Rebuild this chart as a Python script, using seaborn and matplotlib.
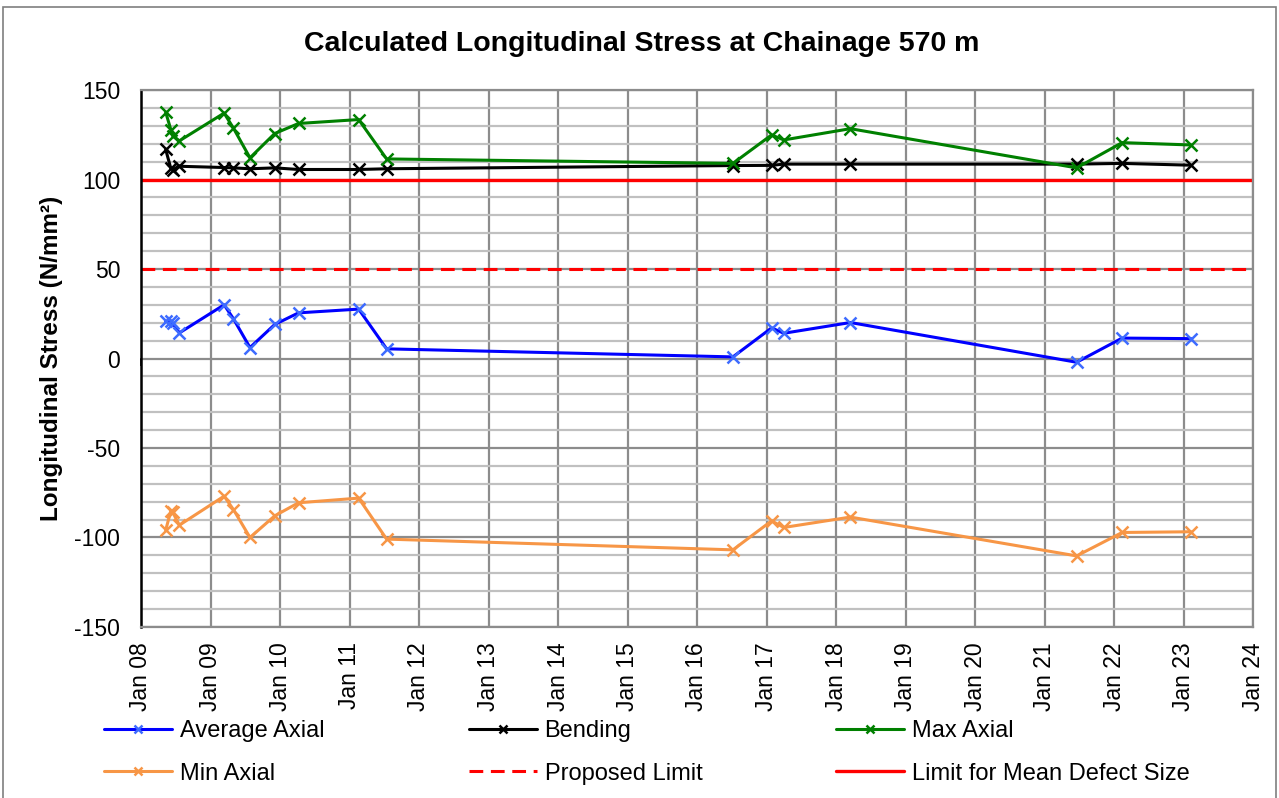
import pandas as pd
import matplotlib
matplotlib.use("Agg")
import matplotlib.pyplot as plt
import matplotlib.dates as mdates
import matplotlib.patches as patches
from matplotlib.ticker import MultipleLocator
import seaborn as sns

# survey dates
dates = ["2008-05-10", "2008-06-06", "2008-06-16", "2008-07-21", "2009-03-13",
         "2009-05-01", "2009-07-27", "2009-12-04", "2010-04-08", "2011-02-18",
         "2011-07-15", "2016-07-08", "2017-01-27", "2017-04-01", "2018-03-17",
         "2021-06-18", "2022-02-12", "2023-02-08"]

avg_axial = [20.9, 21.0, 19.6, 14.3, 30.0, 22.2, 6.1, 19.0, 25.5, 27.6,
             5.4, 0.9, 17.1, 14.1, 20.1, -2.1, 11.4, 11.1]
bending = [116.8, 106.2, 105.5, 107.4, 106.7, 106.5, 106.0, 106.5, 105.6, 105.6,
           106.0, 107.8, 107.9, 108.6, 108.6, 108.6, 109.0, 108.0]
max_axial = [137.6, 127.9, 124.4, 121.6, 137.1, 128.7, 112.1, 125.7, 131.3, 133.5,
             111.5, 109.0, 124.9, 122.1, 128.4, 106.5, 120.6, 119.3]
min_axial = [-95.9, -85.2, -85.9, -93.1, -76.9, -84.4, -100.0, -87.9, -80.6, -78.0,
             -100.9, -106.9, -90.7, -94.4, -88.6, -110.3, -97.2, -96.8]

proposed_limit = 50
defect_limit = 100

title = "Calculated Longitudinal Stress at Chainage 570 m"
y_title = "Longitudinal Stress (N/mm²)"

sns.set_style("white")
plt.rcParams["font.family"] = ["Liberation Sans", "DejaVu Sans"]
plt.rcParams["axes.unicode_minus"] = False
for key in ["text.color", "axes.labelcolor", "xtick.color", "ytick.color"]:
    plt.rcParams[key] = "black"

df = pd.DataFrame({
    "date": pd.to_datetime(dates),
    "Average Axial": avg_axial,
    "Bending": bending,
    "Max Axial": max_axial,
    "Min Axial": min_axial,
})

fig, ax = plt.subplots(figsize=(12.79, 7.98), dpi=100)
fig.subplots_adjust(left=0.1102, right=0.9797, bottom=0.2143, top=0.8872)

series = [
    ("Average Axial", "#0000FF", "#3D6BFF"),
    ("Bending", "#000000", "#000000"),
    ("Max Axial", "#008000", "#008000"),
    ("Min Axial", "#F79646", "#F79646"),
]
handles = {}
for name, line_c, mark_c in series:
    sns.lineplot(data=df, x="date", y=name, ax=ax, color=line_c, linewidth=2.2,
                 marker="x", markersize=8, markeredgewidth=1.8,
                 markeredgecolor=mark_c, label=name, legend=False, zorder=3)
    handles[name] = ax.lines[-1]

handles["Proposed Limit"] = ax.axhline(proposed_limit, color="#FF0000", lw=2.2,
                                       dashes=(4.5, 2.5), label="Proposed Limit", zorder=2)
handles["Limit for Mean Defect Size"] = ax.axhline(defect_limit, color="#FF0000", lw=2.4,
                                                   label="Limit for Mean Defect Size", zorder=2)

ax.set_xlim(pd.Timestamp("2008-01-01"), pd.Timestamp("2024-01-01"))
ax.set_ylim(-150, 150)
ax.xaxis.set_major_locator(mdates.YearLocator())
ax.xaxis.set_major_formatter(mdates.DateFormatter("Jan %y"))
ax.yaxis.set_major_locator(MultipleLocator(50))
ax.yaxis.set_minor_locator(MultipleLocator(10))

ax.set_axisbelow(True)
ax.grid(which="minor", axis="y", color="#c0c0c0", lw=1.6)
ax.grid(which="major", axis="y", color="#8c8c8c", lw=1.6)
ax.grid(which="major", axis="x", color="#8c8c8c", lw=1.6)

ax.tick_params(which="both", length=0)
ax.tick_params(axis="y", labelsize=16.5, pad=15, labelcolor="black")
ax.tick_params(axis="x", labelsize=16.5, pad=11, labelrotation=90, labelcolor="black")
ax.set_xlabel("")
ax.set_ylabel(y_title, fontsize=17.5, fontweight="bold", color="black")
ax.yaxis.set_label_coords(-0.07, 0.5)

for side in ["top", "right", "bottom"]:
    ax.spines[side].set_color("#8c8c8c")
    ax.spines[side].set_linewidth(1.6)
ax.spines["left"].set_color("black")
ax.spines["left"].set_linewidth(1.8)

# horizontal axis line crossing at zero, with tick marks
sec = ax.secondary_xaxis(0.5)
sec.set_alignment("bottom")
sec.xaxis.set_major_locator(mdates.YearLocator())
sec.tick_params(direction="out", length=5, width=1.2, color="black", labelbottom=False)
sec.spines["bottom"].set_color("black")
sec.spines["bottom"].set_linewidth(1.2)

fig.text(0.502, 1 - 44 / 798, title, ha="center", va="center",
         fontsize=20.5, fontweight="bold", color="black")

legend_cols = [
    (["Average Axial", "Min Axial"], 0.0813),
    (["Bending", "Proposed Limit"], 0.3667),
    (["Max Axial", "Limit for Mean Defect Size"], 0.6536),
]
for names, x0 in legend_cols:
    leg = fig.legend(handles=[handles[n] for n in names], labels=names,
                     loc="center left", bbox_to_anchor=(x0, 0.0572), frameon=False,
                     fontsize=17, handlelength=2.9, handletextpad=0.3, labelspacing=0.88,
                     borderpad=0, borderaxespad=0, markerscale=0.7)
    for t in leg.get_texts():
        t.set_color("black")

fig.add_artist(patches.Rectangle((0.0023, -0.01), 0.9955, 1.001, transform=fig.transFigure,
                                 fill=False, edgecolor="#7f7f7f", lw=1.2))

fig.savefig("out.png", dpi=100)
